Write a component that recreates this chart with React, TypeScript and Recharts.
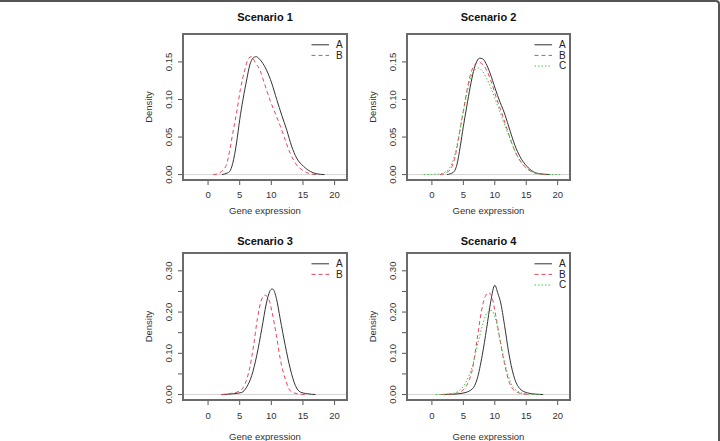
import React from 'react';
import { LineChart, Line, XAxis, YAxis, ReferenceLine } from 'recharts';

const FONT = '"Liberation Sans", Arial, Helvetica, sans-serif';

// shared x scale (gene expression)
const xTicks = [0, 5, 10, 15, 20];
const xDomain: [number, number] = [-3.96, 21.96];

// density scales, top row and bottom row
const yTicksTop = [0, 0.05, 0.1, 0.15];
const yLabelsTop = ['0.00', '0.05', '0.10', '0.15'];
const yDomainTop: [number, number] = [-0.0072, 0.1872];

const yTicksBottom = [0, 0.05, 0.1, 0.15, 0.2, 0.25, 0.3];
const yLabelsBottom = ['0.00', '', '0.10', '', '0.20', '', '0.30'];
const yDomainBottom: [number, number] = [-0.0132, 0.3432];

// kernel density estimates, [expression, density]
const scenario1A: [number, number][] = [
  [2.2, 0], [3.0, 0.002], [3.4, 0.004], [3.9, 0.015], [4.5, 0.042], [5.0, 0.073],
  [5.5, 0.099], [6.1, 0.126], [6.6, 0.146], [7.1, 0.155], [7.6, 0.157], [8.0, 0.155],
  [8.5, 0.15], [9.25, 0.139], [10.05, 0.122], [10.85, 0.1], [11.65, 0.079], [12.45, 0.059],
  [13.2, 0.038], [14.0, 0.022], [15.1, 0.011], [16.2, 0.004], [17.2, 0.001], [18.4, 0],
];
const scenario1B: [number, number][] = [
  [0.8, 0], [1.5, 0.001], [2.1, 0.004], [2.9, 0.013], [3.4, 0.031], [3.9, 0.055],
  [4.5, 0.082], [5.1, 0.113], [5.8, 0.139], [6.4, 0.155], [6.9, 0.157], [7.4, 0.15],
  [8.2, 0.139], [9.0, 0.119], [9.8, 0.099], [10.6, 0.082], [11.4, 0.065], [12.2, 0.046],
  [13.0, 0.028], [14.0, 0.013], [15.1, 0.005], [16.2, 0.001], [17.2, 0],
];

const scenario2A: [number, number][] = [
  [2.4, 0], [3.4, 0.003], [3.97, 0.013], [4.5, 0.037], [5.0, 0.064], [5.55, 0.091],
  [6.1, 0.117], [6.6, 0.137], [7.15, 0.151], [7.6, 0.155], [8.1, 0.154], [8.6, 0.148],
  [9.25, 0.135], [10.05, 0.115], [10.85, 0.096], [11.3, 0.087], [11.65, 0.079], [12.4, 0.059],
  [13.2, 0.039], [14.0, 0.024], [15.1, 0.011], [16.1, 0.004], [17.2, 0.001], [18.8, 0],
];
const scenario2B: [number, number][] = [
  [1.3, 0], [2.4, 0.003], [3.2, 0.011], [3.7, 0.024], [4.2, 0.046], [4.75, 0.073],
  [5.3, 0.099], [5.8, 0.122], [6.35, 0.139], [6.9, 0.147], [7.4, 0.15], [7.9, 0.148],
  [8.7, 0.139], [9.5, 0.122], [10.3, 0.101], [11.1, 0.082], [11.9, 0.062], [12.7, 0.042],
  [13.5, 0.026], [14.5, 0.013], [15.6, 0.005], [16.9, 0.001], [18.3, 0],
];
const scenario2C: [number, number][] = [
  [-1.3, 0], [0.3, 0.0005], [1.3, 0.001], [2.4, 0.005], [3.2, 0.015], [3.7, 0.028],
  [4.2, 0.048], [4.75, 0.073], [5.3, 0.097], [5.8, 0.117], [6.35, 0.133], [6.9, 0.14],
  [7.4, 0.142], [7.9, 0.139], [8.7, 0.128], [9.5, 0.113], [10.3, 0.095], [11.1, 0.077],
  [11.9, 0.059], [12.7, 0.042], [13.5, 0.026], [14.5, 0.013], [15.6, 0.005], [17.2, 0.001],
  [20.4, 0],
];

const scenario3A: [number, number][] = [
  [2.1, 0], [4.0, 0.002], [5.3, 0.005], [6.1, 0.018], [6.9, 0.046], [7.7, 0.095],
  [8.5, 0.16], [9.2, 0.22], [9.75, 0.25], [10.1, 0.256], [10.3, 0.255], [10.8, 0.233],
  [11.4, 0.184], [12.2, 0.119], [13.0, 0.062], [13.8, 0.022], [14.6, 0.006], [15.7, 0.002],
  [17.0, 0],
];
const scenario3B: [number, number][] = [
  [2.1, 0], [3.7, 0.003], [5.05, 0.009], [5.85, 0.026], [6.55, 0.062], [7.2, 0.119],
  [7.8, 0.184], [8.4, 0.228], [9.0, 0.241], [9.55, 0.233], [10.1, 0.201], [10.8, 0.143],
  [11.4, 0.087], [12.2, 0.038], [13.0, 0.009], [14.1, 0.002], [15.4, 0],
];

const scenario4A: [number, number][] = [
  [2.0, 0], [3.5, 0.001], [5.1, 0.004], [6.45, 0.014], [7.2, 0.038], [8.0, 0.095],
  [8.7, 0.16], [9.35, 0.225], [10.0, 0.265], [10.5, 0.245], [10.9, 0.225], [11.55, 0.168],
  [12.2, 0.103], [13.0, 0.046], [14.0, 0.014], [15.2, 0.004], [16.5, 0.001], [17.7, 0],
];
const scenario4B: [number, number][] = [
  [1.4, 0], [3.5, 0.002], [4.6, 0.007], [5.65, 0.026], [6.45, 0.062], [7.2, 0.135],
  [7.85, 0.2], [8.45, 0.237], [9.05, 0.247], [9.6, 0.233], [10.15, 0.192], [10.8, 0.135],
  [11.5, 0.078], [12.2, 0.034], [13.15, 0.009], [14.4, 0.002], [15.7, 0],
];
const scenario4C: [number, number][] = [
  [0.6, 0], [3.0, 0.002], [4.3, 0.009], [5.4, 0.03], [6.45, 0.07], [7.35, 0.127],
  [8.2, 0.176], [8.8, 0.199], [9.45, 0.204], [10.1, 0.184], [10.9, 0.127], [11.7, 0.07],
  [12.5, 0.03], [13.5, 0.009], [14.8, 0.002], [17.2, 0],
];

type Group = 'A' | 'B' | 'C';

const groupStyle: Record<Group, { stroke: string; dash?: string; width: number }> = {
  A: { stroke: '#333', width: 1 },
  B: { stroke: '#e5485a', dash: '4 3', width: 1 },
  C: { stroke: '#45c445', dash: '1.5 2', width: 1 },
};

interface Panel {
  title: string;
  left: number;
  top: number;
  width: number;
  height: number;
  yTicks: number[];
  yLabels: string[];
  yDomain: [number, number];
  series: [Group, [number, number][]][];
  titleGap: number;
  tickMargin: number;
  xLabelGap: number;
}

const panels: Panel[] = [
  {
    title: 'Scenario 1', left: 183, top: 32, width: 164, height: 146,
    yTicks: yTicksTop, yLabels: yLabelsTop, yDomain: yDomainTop,
    series: [['A', scenario1A], ['B', scenario1B]],
    titleGap: 13.5, tickMargin: 6, xLabelGap: 34,
  },
  {
    title: 'Scenario 2', left: 407, top: 32, width: 163, height: 146,
    yTicks: yTicksTop, yLabels: yLabelsTop, yDomain: yDomainTop,
    series: [['A', scenario2A], ['B', scenario2B], ['C', scenario2C]],
    titleGap: 13.5, tickMargin: 6, xLabelGap: 34,
  },
  {
    title: 'Scenario 3', left: 183, top: 251, width: 164, height: 147,
    yTicks: yTicksBottom, yLabels: yLabelsBottom, yDomain: yDomainBottom,
    series: [['A', scenario3A], ['B', scenario3B]],
    titleGap: 8, tickMargin: 7, xLabelGap: 40,
  },
  {
    title: 'Scenario 4', left: 407, top: 251, width: 163, height: 147,
    yTicks: yTicksBottom, yLabels: yLabelsBottom, yDomain: yDomainBottom,
    series: [['A', scenario4A], ['B', scenario4B], ['C', scenario4C]],
    titleGap: 8, tickMargin: 7, xLabelGap: 40,
  },
];

const PAD_LEFT = 50;
const PAD_TOP = 10;
const PAD_RIGHT = 10;
const PAD_BOTTOM = 50;
const BOX = '#6a6a6a';

const toPoints = (pts: [number, number][]) => pts.map(([x, y]) => ({ x, y }));

// rotated y tick labels, R style
const makeYTick = (ticks: number[], labels: string[]) => (props: any) => {
  const { x, y, payload } = props;
  const i = ticks.indexOf(payload.value);
  const label = i >= 0 ? labels[i] : '';
  if (!label) return <g />;
  return (
    <text
      x={0}
      y={0}
      transform={`translate(${x - 5.6},${y}) rotate(-90)`}
      textAnchor="middle"
      fontSize={9.5}
      fill="#333"
      fontFamily={FONT}
    >
      {label}
    </text>
  );
};

function DensityPanel({ p }: { p: Panel }) {
  const w = p.width + PAD_LEFT + PAD_RIGHT;
  const h = p.height + PAD_TOP + PAD_BOTTOM;
  return (
    <div style={{ position: 'absolute', left: p.left - PAD_LEFT, top: p.top - PAD_TOP, width: w, height: h }}>
      <LineChart width={w} height={h} margin={{ top: PAD_TOP, right: PAD_RIGHT, bottom: 0, left: 0 }}>
        <XAxis
          type="number"
          dataKey="x"
          domain={xDomain}
          ticks={xTicks}
          allowDataOverflow
          interval={0}
          height={PAD_BOTTOM}
          axisLine={false}
          tickLine={{ stroke: '#555' }}
          tickSize={5}
          tickMargin={p.tickMargin}
          tick={{ fontSize: 9.5, fill: '#333', fontFamily: FONT }}
        />
        <YAxis
          type="number"
          domain={p.yDomain}
          ticks={p.yTicks}
          allowDataOverflow
          interval={0}
          width={PAD_LEFT}
          axisLine={false}
          tickLine={{ stroke: '#555' }}
          tickSize={5}
          tickMargin={0}
          tick={makeYTick(p.yTicks, p.yLabels)}
        />
        <ReferenceLine y={0} stroke="#d4d4d4" strokeWidth={1} />
        {p.series.map(([g, pts]) => (
          <Line
            key={g}
            data={toPoints(pts)}
            dataKey="y"
            type="monotone"
            stroke={groupStyle[g].stroke}
            strokeWidth={groupStyle[g].width}
            strokeDasharray={groupStyle[g].dash}
            dot={false}
            activeDot={false}
            isAnimationActive={false}
          />
        ))}
      </LineChart>
      {/* plot frame over the plotting region */}
      <div
        style={{
          position: 'absolute',
          left: PAD_LEFT - 1,
          top: PAD_TOP - 1,
          width: p.width + 2,
          height: p.height + 2,
          boxSizing: 'border-box',
          borderStyle: 'solid',
          borderWidth: 2,
          borderColor: BOX,
          zIndex: 5,
          pointerEvents: 'none',
        }}
      />
    </div>
  );
}

// titles, axis labels and legends
function PanelText({ p }: { p: Panel }) {
  const cx = p.left + p.width / 2;
  const right = p.left + p.width;
  const bottom = p.top + p.height;
  return (
    <g fontFamily={FONT}>
      <text x={cx} y={p.top - p.titleGap} textAnchor="middle" fontSize={11} fontWeight="bold" fill="#111">
        {p.title}
      </text>
      <text x={cx} y={bottom + p.xLabelGap} textAnchor="middle" fontSize={9.5} fill="#333">
        Gene expression
      </text>
      <text
        x={0}
        y={0}
        transform={`translate(${p.left - 31},${p.top + p.height / 2}) rotate(-90)`}
        textAnchor="middle"
        fontSize={9.5}
        fill="#333"
      >
        Density
      </text>
      {p.series.map(([g], i) => {
        const y = p.top + 10.8 + i * 10.6;
        const s = groupStyle[g];
        return (
          <g key={g}>
            <line
              x1={right - 35.5}
              x2={right - 18}
              y1={y}
              y2={y}
              stroke={s.stroke}
              strokeWidth={s.width}
              strokeDasharray={s.dash}
            />
            <text x={right - 11} y={y + 3.4} fontSize={10} fill="#222">
              {g}
            </text>
          </g>
        );
      })}
    </g>
  );
}

export default function App() {
  return (
    <div
      style={{
        position: 'absolute',
        left: 0,
        top: 0,
        width: 720,
        height: 441,
        background: '#fff',
        boxSizing: 'border-box',
        borderTop: '2px solid #555',
        borderRight: '2px solid #555',
        borderTopRightRadius: 4,
        overflow: 'hidden',
      }}
    >
      {panels.map((p) => (
        <DensityPanel key={p.title} p={p} />
      ))}
      <svg
        width={720}
        height={441}
        style={{ position: 'absolute', left: 0, top: 0, pointerEvents: 'none' }}
      >
        {panels.map((p) => (
          <PanelText key={p.title} p={p} />
        ))}
      </svg>
    </div>
  );
}
